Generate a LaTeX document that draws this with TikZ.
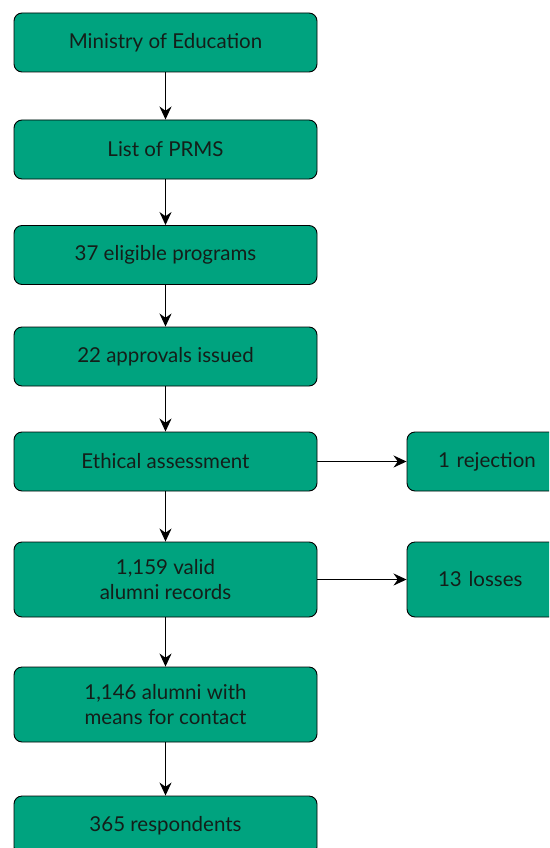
\documentclass[tikz,border=0pt]{standalone}
\usepackage{fontspec}
\setmainfont{Lato}
\usetikzlibrary{arrows.meta}
\definecolor{boxgreen}{RGB}{0,163,127}
\definecolor{textdark}{RGB}{20,30,25}
\tikzset{
  box/.style={draw=black, line width=0.9pt, fill=boxgreen, rounded corners=8pt,
    minimum width=303pt, minimum height=59pt, inner sep=0pt, align=center,
    font=\fontsize{20.5}{25}\selectfont, text=textdark},
  tallbox/.style={box, minimum height=75pt},
  sidebox/.style={box, minimum width=160pt, text width=98pt, inner xsep=31pt, align=left},
  flow/.style={line width=1.6pt, -{Stealth[length=13pt,width=12pt]}}
}
\begin{document}
\begin{tikzpicture}[x=1pt,y=1pt]
\useasboundingbox (0,0) rectangle (549,-848);
\clip (0,0) rectangle (549,-848);
\node[box] (n1) at (165.5,-42.5) {Ministry of Education};
\node[box] (n2) at (165.5,-149.5) {List of PRMS};
\node[box] (n3) at (165.5,-255) {37 eligible programs};
\node[box] (n4) at (165.5,-356.5) {22 approvals issued};
\node[box] (n5) at (165.5,-461.5) {Ethical assessment};
\node[tallbox] (n6) at (165.5,-579.5) {1,159 valid\\alumni records};
\node[tallbox] (n7) at (165.5,-704.5) {1,146 alumni with\\means for contact};
\node[box] (n8) at (165.5,-825.5) {365 respondents};
\node[sidebox] (r1) at (487,-461.5) {1 rejection};
\node[sidebox, minimum height=75pt] (r2) at (487,-579.5) {13 losses};
\draw[flow] (n1) -- (n2);
\draw[flow] (n2) -- (n3);
\draw[flow] (n3) -- (n4);
\draw[flow] (n4) -- (n5);
\draw[flow] (n5) -- (n6);
\draw[flow] (n6) -- (n7);
\draw[flow] (n7) -- (n8);
\draw[flow] (n5) -- (r1);
\draw[flow] (n6) -- (r2);
\end{tikzpicture}
\end{document}
